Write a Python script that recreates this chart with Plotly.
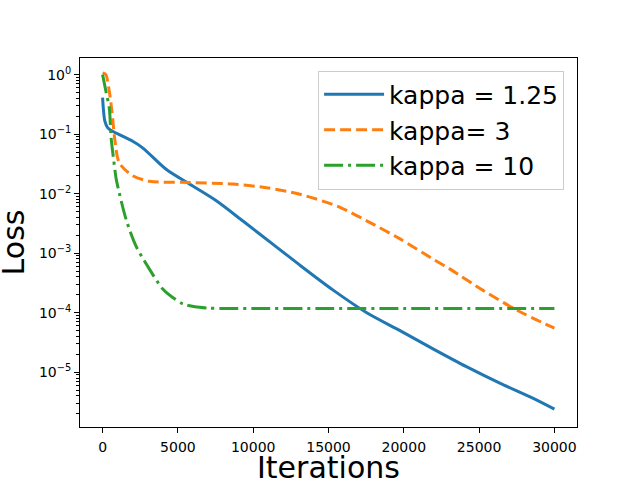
import plotly.graph_objects as go

# values (loss vs iterations)
it_k125 = [0, 60, 150, 330, 666, 2000, 2660, 4220, 5770, 7550, 9320, 11320,
           13100, 15310, 17540, 19750, 21970, 24190, 26410, 28630, 30000]
loss_k125 = [0.41, 0.25, 0.166, 0.129, 0.112, 0.076, 0.059, 0.0257, 0.0145,
             0.0076, 0.00347, 0.00141, 6.3e-4, 2.4e-4, 1.0e-4, 5.0e-5, 2.45e-5,
             1.23e-5, 6.5e-6, 3.6e-6, 2.4e-6]

it_k3 = [0, 225, 330, 510, 665, 825, 1110, 2000, 3110, 5330, 8660, 10880, 13100,
         15760, 17540, 19750, 21970, 23070, 25290, 27520, 30000]
loss_k3 = [1.07, 1.0, 0.78, 0.41, 0.186, 0.076, 0.033, 0.020, 0.0162, 0.0155,
           0.0145, 0.0126, 0.0098, 0.0059, 0.0035, 0.00174, 7.9e-4, 5.4e-4,
           2.35e-4, 1.1e-4, 5.5e-5]

it_k10 = [0, 225, 445, 560, 665, 890, 1000, 1560, 2220, 3110, 3995, 4660, 5330,
          6130, 7000, 7930, 10000, 15000, 20000, 25000, 30000]
loss_k10 = [1.0, 0.52, 0.275, 0.09, 0.052, 0.0186, 0.0135, 0.0037, 0.00132,
            5.4e-4, 2.5e-4, 1.8e-4, 1.41e-4, 1.26e-4, 1.2e-4, 1.18e-4, 1.18e-4,
            1.18e-4, 1.18e-4, 1.18e-4, 1.18e-4]

y_major = [1e0, 1e-1, 1e-2, 1e-3, 1e-4, 1e-5]
y_major_text = ["10<sup>0</sup>", "10<sup>−1</sup>", "10<sup>−2</sup>",
                "10<sup>−3</sup>", "10<sup>−4</sup>", "10<sup>−5</sup>"]
x_ticks = [0, 5000, 10000, 15000, 20000, 25000, 30000]

minor_vals = [m * 10.0 ** e for e in range(-6, 1) for m in range(2, 10)]

fig = go.Figure()

fig.add_trace(go.Scatter(x=it_k125, y=loss_k125, name="kappa = 1.25", mode="lines",
                         line=dict(color="#1f77b4", width=3, shape="spline", smoothing=0.8)))
fig.add_trace(go.Scatter(x=it_k3, y=loss_k3, name="kappa= 3", mode="lines",
                         line=dict(color="#ff7f0e", width=3, dash="11px,5px",
                                   shape="spline", smoothing=0.8)))
fig.add_trace(go.Scatter(x=it_k10, y=loss_k10, name="kappa = 10", mode="lines",
                         line=dict(color="#2ca02c", width=3, dash="19px,5px,3px,5px",
                                   shape="spline", smoothing=0.8)))

fig.update_layout(
    width=640, height=480,
    margin=dict(l=80, r=63, t=58, b=53),
    paper_bgcolor="white", plot_bgcolor="white",
    font=dict(family="DejaVu Sans", color="black", size=14),
    legend=dict(x=0.974, y=0.966, xanchor="right", yanchor="top",
                bgcolor="rgba(255,255,255,0.8)", bordercolor="#cccccc", borderwidth=1,
                font=dict(size=25), itemwidth=60),
)

fig.update_xaxes(
    range=[-1500, 31500], tickvals=x_ticks, tickformat="d", automargin=False,
    showline=True, linecolor="black", linewidth=1, mirror=True,
    ticks="outside", ticklen=5, tickcolor="black", showgrid=False, zeroline=False,
    ticklabelstandoff=2,
)
fig.update_yaxes(
    type="log", range=[-5.92, 0.28], automargin=False,
    tickvals=y_major, ticktext=y_major_text,
    showline=True, linecolor="black", linewidth=1, mirror=True,
    ticks="outside", ticklen=5, tickcolor="black", showgrid=False, zeroline=False,
    minor=dict(tickvals=minor_vals, ticks="outside", ticklen=3, tickcolor="black",
               showgrid=False),
)

# axis titles placed as annotations so they land where the reference has them
fig.add_annotation(text="Iterations", xref="paper", yref="paper", x=0.5, y=-0.11,
                   xanchor="center", yanchor="middle", showarrow=False,
                   font=dict(size=30))
fig.add_annotation(text="Loss", xref="paper", yref="paper", x=-0.133, y=0.5,
                   xanchor="center", yanchor="middle", showarrow=False,
                   textangle=-90, font=dict(size=30))

# the page body has a default margin; drop it so the figure sits at the corner
fig.write_html("out.html", config={"displayModeBar": False},
               post_script="document.body.style.margin='0px';")
